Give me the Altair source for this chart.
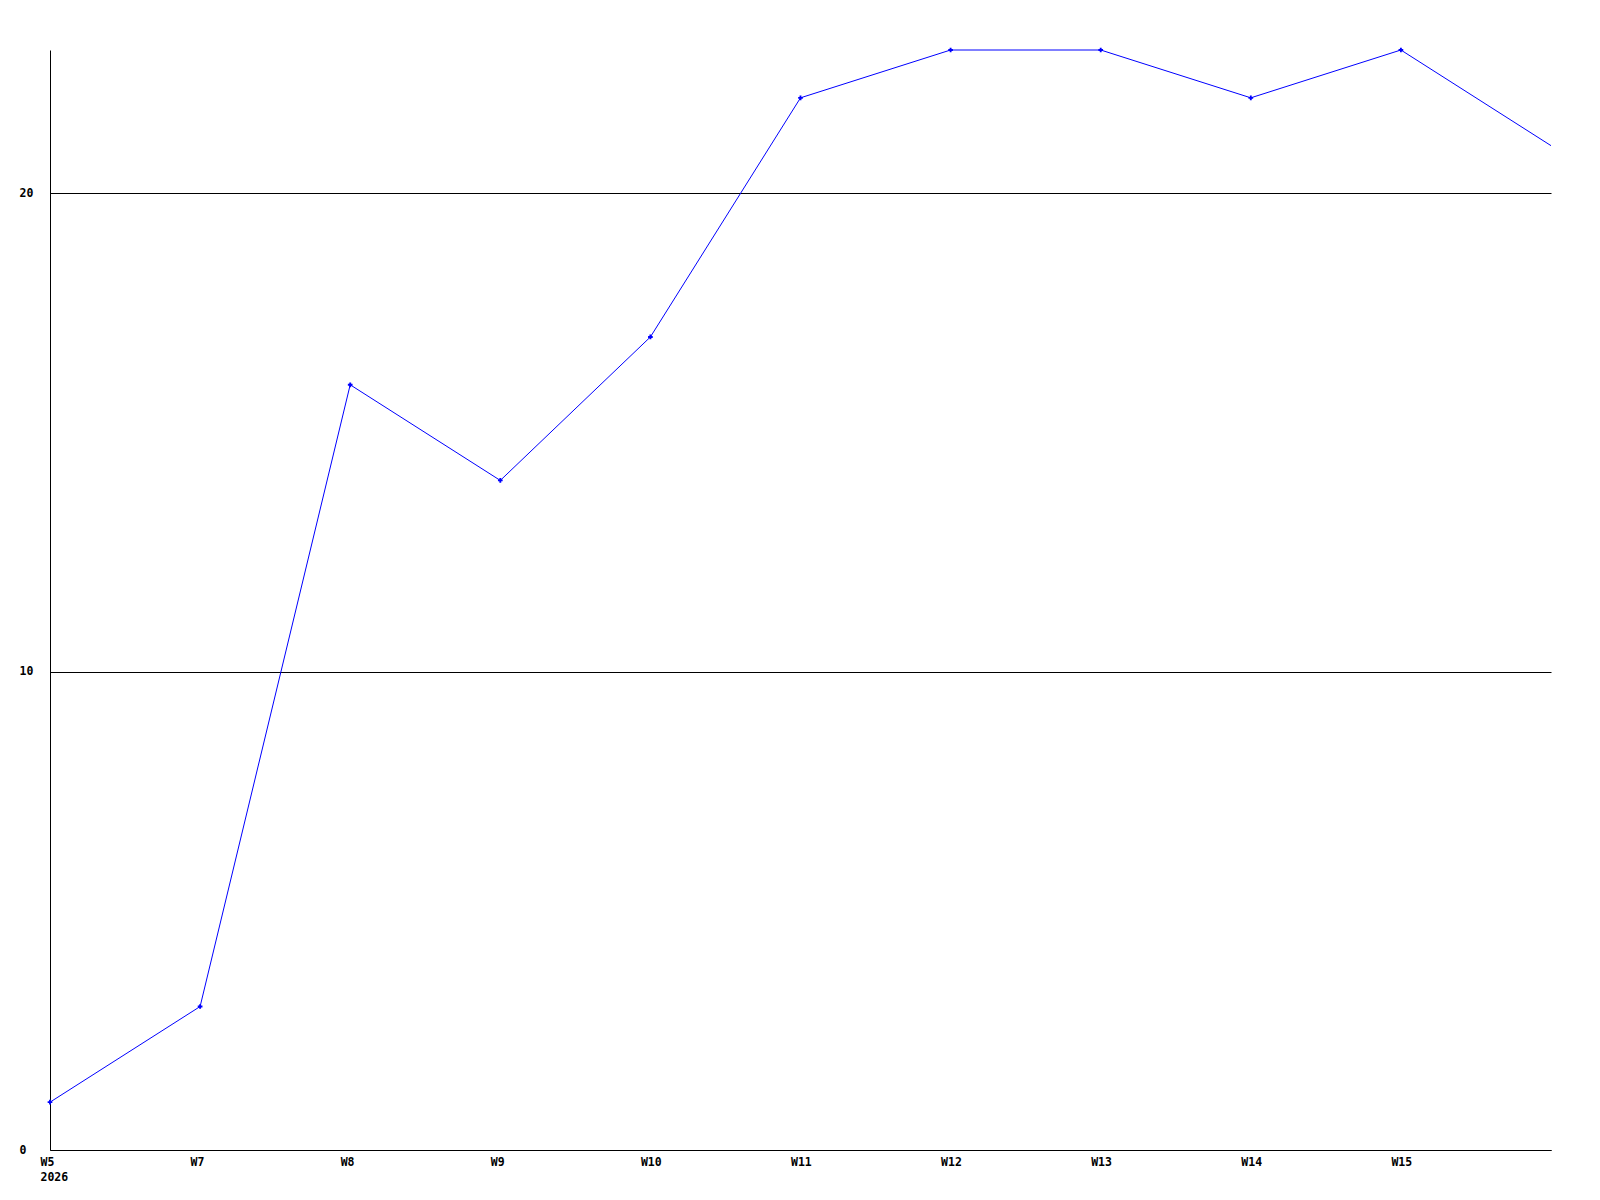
import altair as alt
import pandas as pd

weeks = ["W5", "W7", "W8", "W9", "W10", "W11", "W12", "W13", "W14", "W15", "W16"]
values = [1, 3, 16, 14, 17, 22, 23, 23, 22, 23, 21]
shown_labels = ["W5", "W7", "W8", "W9", "W10", "W11", "W12", "W13", "W14", "W15"]

df = pd.DataFrame({"week": weeks, "value": values})
df["marker"] = df["week"].isin(shown_labels)

label_expr = (
    "datum.value == 'W5' ? ['W5', '2026'] : "
    "(datum.value == 'W16' ? '' : datum.value)"
)

x = alt.X(
    "week:N",
    sort=weeks,
    scale=alt.Scale(type="point", padding=0),
    axis=alt.Axis(
        title=None, ticks=False, grid=False, labelAngle=0,
        labelExpr=label_expr, labelPadding=6, labelBaseline="top",
        labelAlign="left", labelOffset=-10,
        domainColor="black", domainWidth=1, labelFlush=False,
    ),
)
y = alt.Y(
    "value:Q",
    scale=alt.Scale(domain=[0, 23], nice=False, zero=True),
    axis=alt.Axis(
        title=None, values=[0, 10, 20], ticks=False, grid=True,
        gridColor="black", gridWidth=1, gridOpacity=1,
        domainColor="black", domainWidth=1, labelPadding=31,
        labelAlign="left",
    ),
)

base = alt.Chart(df)
line = base.mark_line(color="#0000ff", strokeWidth=1, clip=False).encode(x=x, y=y)
pts = base.transform_filter("datum.marker").mark_point(
    shape="cross", filled=True, color="#0000ff", size=22, opacity=1
).encode(x=x, y=y)

chart = (line + pts).properties(
    width=1501, height=1100,
    autosize=alt.AutoSizeParams(type="none"),
    padding={"left": 42, "top": 42, "right": 40, "bottom": 40},
).configure_view(stroke=None).configure_axis(
    labelFont="DejaVu Sans Mono", labelFontWeight="bold", labelFontSize=11.5,
    labelColor="black", labelLineHeight=15,
)

chart.save("out.html", embed_options={"renderer": "svg", "actions": False})
